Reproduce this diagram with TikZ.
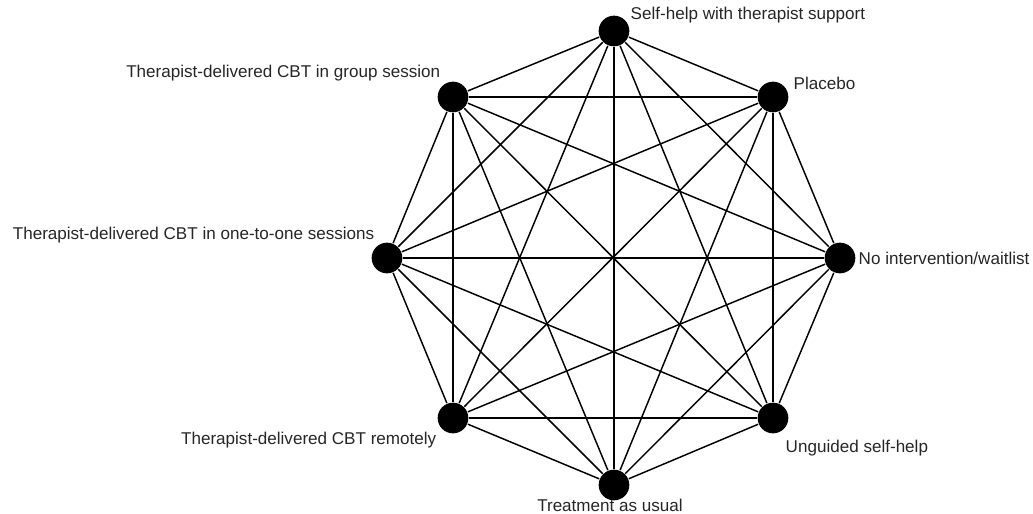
\documentclass[tikz,border=0pt]{standalone}
\usepackage{fontspec}
\setmainfont{Liberation Sans}
\usetikzlibrary{arrows}

\begin{document}
\begin{tikzpicture}[x=0.75pt,y=-0.75pt,line width=1.1pt]
  \tikzstyle{every treat}=[circle,fill=black,draw=none,minimum size=23pt,inner sep=0pt]
  \tikzstyle{treatlabel}=[font=\fontsize{12.8}{14}\selectfont,inner sep=0pt,text=black!85]
  \useasboundingbox (0,0) rectangle (1033,514);

  \node[every treat] (S) at (614,31)  {};
  \node[every treat] (P) at (773,97)  {};
  \node[every treat] (N) at (840,258) {};
  \node[every treat] (U) at (773,418) {};
  \node[every treat] (T) at (614,485) {};
  \node[every treat] (R) at (453,418) {};
  \node[every treat] (O) at (387,258) {};
  \node[every treat] (G) at (453,97)  {};

  \node[treatlabel,anchor=west] (Slab) at (630,15)  {Self-help with therapist support};
  \node[treatlabel,anchor=west] (Plab) at (793,83)  {Placebo};
  \node[treatlabel,anchor=west] (Nlab) at (858,258) {No intervention/waitlist};
  \node[treatlabel,anchor=west] (Ulab) at (785,448) {Unguided self-help};
  \node[treatlabel]             (Tlab) at (610,505) {Treatment as usual};
  \node[treatlabel,anchor=east] (Rlab) at (437,440) {Therapist-delivered CBT remotely};
  \node[treatlabel,anchor=east] (Olab) at (375,235) {Therapist-delivered CBT in one-to-one sessions};
  \node[treatlabel,anchor=east] (Glab) at (441,73)  {Therapist-delivered CBT in group session};

  \path (S) edge (P)
            edge (N)
            edge (U)
            edge (T)
            edge (R)
            edge (O)
            edge (G)
        (P) edge (N)
            edge (U)
            edge (T)
            edge (R)
            edge (O)
            edge (G)
        (N) edge (U)
            edge (T)
            edge (R)
            edge (O)
            edge (G)
        (U) edge (T)
            edge (R)
            edge (O)
            edge (G)
        (T) edge (R)
            edge (O)
            edge (G)
        (R) edge (O)
            edge (G)
        (O) edge (G);
\end{tikzpicture}
\end{document}
